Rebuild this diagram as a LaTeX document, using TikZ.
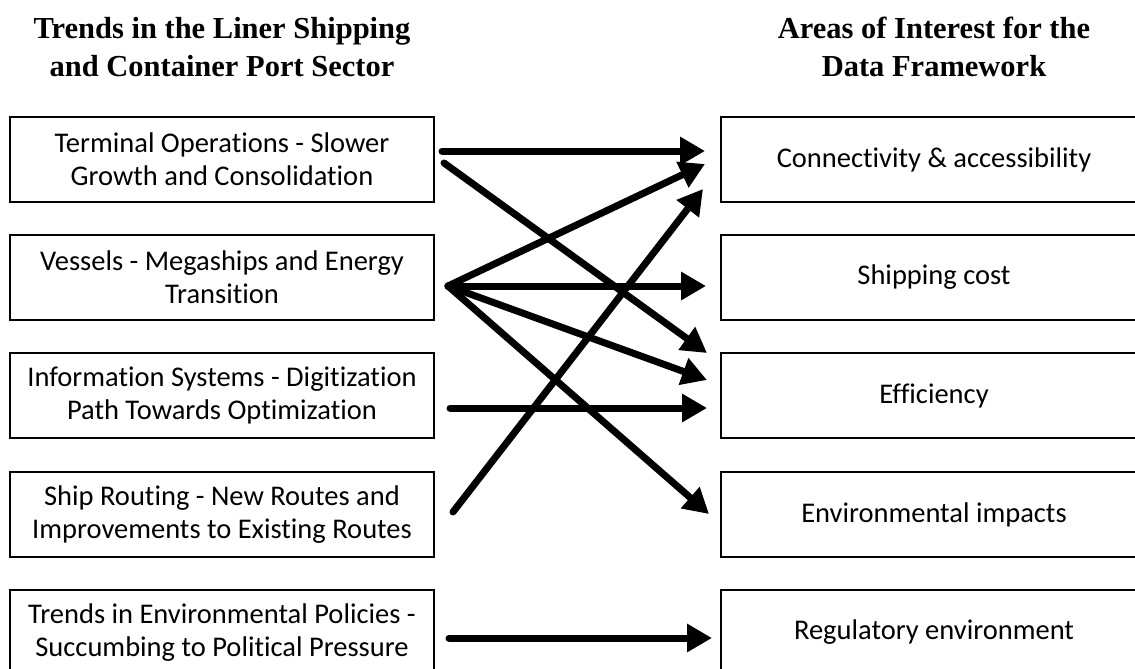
\documentclass[tikz,border=0pt]{standalone}
\usepackage{fontspec}
\setmainfont{Carlito}[Ligatures=NoCommon]
\newfontfamily\headfont{Liberation Serif}
\usetikzlibrary{arrows.meta,positioning}

\begin{document}
\begin{tikzpicture}[x=1pt,y=-1pt,
    trendbox/.style={draw,line width=1.2pt,minimum width=424pt,minimum height=85pt,inner sep=0pt,align=center,font=\fontsize{28.5}{33}\selectfont},
    areabox/.style={trendbox,minimum width=426pt},
    head/.style={align=center,font=\headfont\bfseries\fontsize{30.5}{38}\selectfont},
    link/.style={-{Triangle[length=25pt,width=27pt]},line width=7pt,line cap=round}]
    \clip (0,0) rectangle (1135,669);
    \node[head] (lefthead) at (222,47) {Trends in the Liner Shipping\\and Container Port Sector};
    \node[head] (righthead) at (934,47) {Areas of Interest for the\\Data Framework};
    \node[trendbox] (term) at (222,159.5) {Terminal Operations - Slower\\Growth and Consolidation};
    \node[trendbox] (vess) at (222,277.5) {Vessels - Megaships and Energy\\Transition};
    \node[trendbox] (info) at (222,395.5) {Information Systems - Digitization\\Path Towards Optimization};
    \node[trendbox] (ship) at (222,514.5) {Ship Routing - New Routes and\\Improvements to Existing Routes};
    \node[trendbox] (poli) at (222,632.5) {Trends in Environmental Policies -\\Succumbing to Political Pressure};
    \node[areabox] (conn) at (934,159.5) {Connectivity \& accessibility};
    \node[areabox] (cost) at (934,277.5) {Shipping cost};
    \node[areabox] (effi) at (934,395.5) {Efficiency};
    \node[areabox] (envi) at (934,514.5) {Environmental impacts};
    \node[areabox] (regu) at (934,632.5) {Regulatory environment};
    \coordinate (termA) at (442,151);
    \coordinate (termB) at (444,163);
    \coordinate (hub) at (448,286);
    \coordinate (infoA) at (450,408);
    \coordinate (shipA) at (453,512);
    \coordinate (poliA) at (449,638);
    \coordinate (connA) at (705,151);
    \coordinate (connB) at (705,164);
    \coordinate (connC) at (703,189);
    \coordinate (costA) at (706,286);
    \coordinate (effiA) at (707,353);
    \coordinate (effiB) at (707,380);
    \coordinate (effiC) at (707,408);
    \coordinate (enviA) at (709,514);
    \coordinate (reguA) at (712,638);
    \draw[link] (termA) -- (connA);
    \draw[link] (termB) -- (effiA);
    \draw[link] (hub) -- (connB);
    \draw[link] (hub) -- (costA);
    \draw[link] (hub) -- (effiB);
    \draw[link] (hub) -- (enviA);
    \draw[link] (infoA) -- (effiC);
    \draw[link] (shipA) -- (connC);
    \draw[link] (poliA) -- (reguA);
\end{tikzpicture}
\end{document}
